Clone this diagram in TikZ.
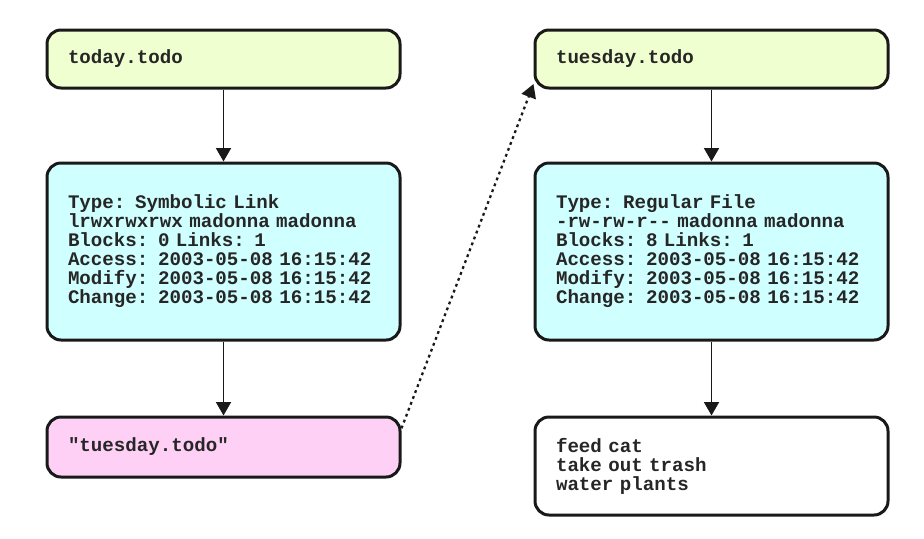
\documentclass[tikz,border=0pt]{standalone}
\usepackage{fontspec}
\setmonofont{Liberation Mono}
\usepackage{tikz}
\usetikzlibrary{arrows.meta}

\definecolor{namegreen}{RGB}{240,255,208}
\definecolor{inodecyan}{RGB}{208,255,255}
\definecolor{linkpink}{RGB}{255,208,246}

\newcommand{\boxfont}{\ttfamily\bfseries\fontsize{10.9}{10.8}\selectfont}

\tikzset{
  fbox/.style={draw=black!90,line width=0.06cm,rounded corners=0.28cm,
    text width=6.22cm,inner xsep=0.42cm,inner ysep=0cm,align=left,
    text=black!85,font=\boxfont},
  arr/.style={-{Triangle[length=0.27cm,width=0.3cm]},line width=1.1pt,black!90}
}

\begin{document}
\begin{tikzpicture}
\useasboundingbox (0,0) rectangle (18.48,-10.76);

\draw (4.47,-1.18) node[fbox,fill=namegreen,minimum height=1.16cm] (N1) {today.todo} +(0,-3.85) node[fbox,fill=inodecyan,minimum height=3.54cm] (I1) {Type: Symbolic Link\\lrwxrwxrwx madonna madonna\\Blocks: 0 Links: 1\\Access: 2003-05-08 16:15:42\\Modify: 2003-05-08 16:15:42\\Change: 2003-05-08 16:15:42\\[0.12cm]} +(0,-7.76) node[fbox,fill=linkpink,minimum height=1.2cm] (D1) {"tuesday.todo"};
\draw[arr] (N1)--(I1);
\draw[arr] (I1)--(D1);

\draw (14.23,-1.18) node[fbox,fill=namegreen,minimum height=1.16cm] (N2) {tuesday.todo} +(0,-3.85) node[fbox,fill=inodecyan,minimum height=3.54cm] (I2) {Type: Regular File\\-rw-rw-r-- madonna madonna\\Blocks: 8 Links: 1\\Access: 2003-05-08 16:15:42\\Modify: 2003-05-08 16:15:42\\Change: 2003-05-08 16:15:42\\[0.12cm]} +(0,-8.14) node[fbox,fill=white,minimum height=1.96cm] (D2) {feed cat\\take out trash\\water plants};
\draw[arr] (N2)--(I2);
\draw[arr] (I2)--(D2);

%\draw[arr,densely dotted] (D1)--(N2);
\draw[arr,dash pattern=on 1.6pt off 2pt,line width=1.3pt] (D1.6)--(N2.188);

\end{tikzpicture}
\end{document}
